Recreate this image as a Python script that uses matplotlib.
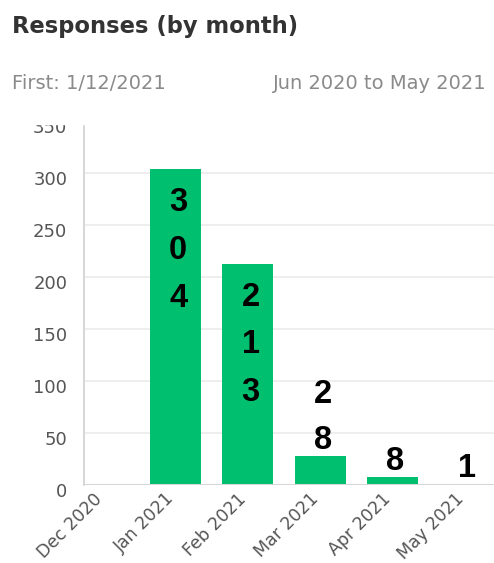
import matplotlib
matplotlib.use("Agg")
from matplotlib import pyplot as plt
from matplotlib import transforms

months = ["Dec 2020", "Jan 2021", "Feb 2021", "Mar 2021", "Apr 2021", "May 2021"]
responses = [0, 304, 213, 28, 8, 1]
y_ticks = [0, 50, 100, 150, 200, 250, 300, 350]

title = "Responses (by month)"
first_date = "First: 1/12/2021"
date_range = "Jun 2020 to May 2021"

green = "#00bf6f"
grey_text = "#555555"

fig = plt.figure(figsize=(4.94, 5.63), dpi=100)
ax = fig.add_axes([0.170, 0.1385, 0.830, 0.6465])

x = list(range(len(months)))
ax.bar(x, responses, width=0.705, color=green, zorder=3)

# labels: one digit per line, inside tall bars, above the small ones
for xi, val in zip(x, responses):
    if val == 0:
        continue
    label = "\n".join(str(val))
    if val > 100:
        ax.annotate(label, (xi, val), xytext=(2, -13), textcoords="offset points",
                    ha="center", va="top", fontsize=23.5, fontweight="bold",
                    family="Liberation Sans", linespacing=1.7, color="black", zorder=5)
    else:
        ax.annotate(label, (xi, val), xytext=(2, 0), textcoords="offset points",
                    ha="center", va="bottom", fontsize=23.5, fontweight="bold",
                    family="Liberation Sans", linespacing=1.62, color="black", zorder=5)

ax.set_xlim(-0.266, 5.405)
ax.set_ylim(0, 350)
ax.set_yticks(y_ticks)
ax.set_xticks(x)
ax.set_xticklabels(months, rotation=45, ha="right", va="center",
                   rotation_mode="anchor")

ax.grid(axis="y", color="#ebebeb", linewidth=1.2, zorder=0)
ax.axhline(0, color="#d6d6d6", linewidth=1.5, zorder=4)
for side in ["top", "right", "bottom"]:
    ax.spines[side].set_visible(False)
ax.spines["left"].set_color("#d0d0d0")
ax.spines["left"].set_linewidth(1.2)

ax.tick_params(axis="y", length=0, pad=12, labelsize=13, labelcolor=grey_text)
ax.tick_params(axis="x", length=0, pad=8, labelsize=12.5, labelcolor=grey_text)

shift_y = transforms.ScaledTranslation(0, -5 / 100, fig.dpi_scale_trans)
for lab in ax.get_yticklabels():
    lab.set_transform(lab.get_transform() + shift_y)
shift_x = transforms.ScaledTranslation(-4 / 100, 0, fig.dpi_scale_trans)
for lab in ax.get_xticklabels():
    lab.set_transform(lab.get_transform() + shift_x)

# the top of the chart is cut off in the original screenshot
fig.add_artist(plt.Rectangle((0, 1 - 123.5 / 563), 1, 23.5 / 563,
                             transform=fig.transFigure, color="white", zorder=10))

fig.text(12 / 494, 1 - 33 / 563, title, fontsize=16.3, fontweight="bold",
         color="#333333", ha="left", va="baseline")
fig.text(12 / 494, 1 - 89 / 563, first_date, fontsize=14, color="#8a8a8a",
         ha="left", va="baseline")
fig.text(487 / 494, 1 - 89 / 563, date_range, fontsize=14, color="#8a8a8a",
         ha="right", va="baseline")

fig.savefig("out.png", dpi=100)
